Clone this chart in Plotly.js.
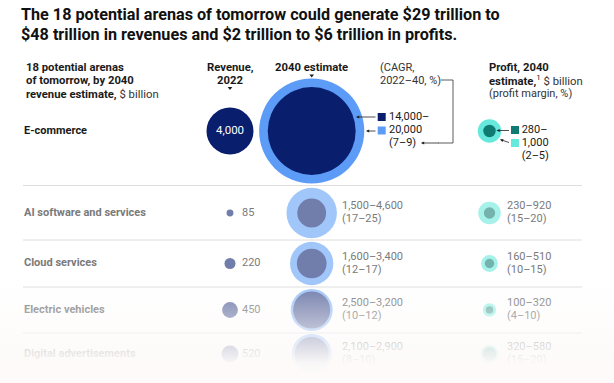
<!DOCTYPE html>
<html>
<head>
<meta charset="utf-8">
<script src="https://cdn.plot.ly/plotly-3.0.1.min.js"></script>
<style>
  html, body { margin: 0; padding: 0; background: #ffffff; }
  #chart { width: 614px; height: 383px; }
</style>
</head>
<body>
<div id="chart"></div>
<script>
// ---------------- data ----------------
const rows = ['E-commerce', 'AI software and services', 'Cloud services', 'Electric vehicles', 'Digital advertisements'];
const rev2022 = [4000, 85, 220, 450, 520];
const est2040Low = [14000, 1500, 1600, 2500, 2100];
const est2040High = [20000, 4600, 3400, 3200, 2900];
const cagrLow = [7, 17, 12, 10, 8];
const cagrHigh = [9, 25, 17, 12, 10];
const profitLow = [280, 230, 160, 100, 320];
const profitHigh = [1000, 920, 510, 320, 580];
const marginLow = [2, 15, 10, 4, 15];
const marginHigh = [5, 20, 15, 10, 20];

// ---------------- layout constants (positions / styles) ----------------
const FONT = 'Roboto, "Liberation Sans", sans-serif';
const ROW_Y = [131, 213, 263.5, 310, 354];
const COL = { label: 24, rev: 230, revText: 242, est: 311.7, estText: 342, profit: 489.5, profitText: 507 };
const SIZEREF = 3.62; // radius = sqrt(v / (2*sizeref))
const NAVY = '#0a1e6e', BLUE = '#5c9cf7', TEAL_D = '#0f7a72', TEAL_L = '#66e8dc';
const INK = '#1a1a1a';
const BG_FADE = '253,250,249';

function hex2rgb(h) { h = h.replace('#', ''); return [0, 2, 4].map(i => parseInt(h.substr(i, 2), 16)); }
function dim(c, k) { // blend colour with white, keep k of the colour
  const [r, g, b] = hex2rgb(c);
  const m = v => Math.round(v * k + 255 * (1 - k));
  return 'rgb(' + m(r) + ',' + m(g) + ',' + m(b) + ')';
}
const rowK = rows.map((_, i) => i === 0 ? 1 : 0.58);
const colorsFor = c => rowK.map(k => dim(c, k));
const fmt = v => v.toLocaleString('en-US');

const traces = [];
function bubbles(xc, vals, col) {
  traces.push({
    type: 'scatter', mode: 'markers', x: rows.map(() => xc), y: ROW_Y,
    marker: { size: vals, sizemode: 'area', sizeref: SIZEREF, color: colorsFor(col), line: { width: 0 }, opacity: 1 },
    hoverinfo: 'skip', cliponaxis: false
  });
}
bubbles(COL.est, est2040High, BLUE);
bubbles(COL.est, est2040Low, NAVY);
bubbles(COL.rev, rev2022, NAVY);
bubbles(COL.profit, profitHigh, TEAL_L);
bubbles(COL.profit, profitLow, TEAL_D);

// legend keys for the highlighted row
traces.push({
  type: 'scatter', mode: 'markers', x: [381.7, 381.7, 515, 515], y: [117, 130.5, 130, 143],
  marker: { symbol: 'square', size: 8, color: [NAVY, BLUE, TEAL_D, TEAL_L] }, hoverinfo: 'skip'
});
// header pointers
traces.push({
  type: 'scatter', mode: 'markers', x: [COL.rev, COL.est], y: [88, 75.5],
  marker: { symbol: 'triangle-down', size: 4, color: INK }, hoverinfo: 'skip'
});

function textTrace(xs, ys, texts, colors, size, pos) {
  traces.push({
    type: 'scatter', mode: 'text', x: xs, y: ys, text: texts, textposition: pos,
    textfont: { family: FONT, size: size, color: colors }, hoverinfo: 'skip', cliponaxis: false
  });
}
const textCol = rowK.map(k => dim(INK, k));
const others = rows.map((_, i) => i).filter(i => i > 0);
// row labels
textTrace(rows.map(() => COL.label), ROW_Y, rows.map(r => '<b>' + r + '</b>'), textCol, 11, 'middle right');
// revenue 2022
textTrace([COL.rev], [ROW_Y[0]], [fmt(rev2022[0])], ['#ffffff'], 11.5, 'middle center');
textTrace(others.map(() => COL.revText), others.map(i => ROW_Y[i]), others.map(i => fmt(rev2022[i])), others.map(i => textCol[i]), 11, 'middle right');
// 2040 estimate
textTrace(others.map(() => COL.estText), others.map(i => ROW_Y[i] - 6.3), others.map(i => fmt(est2040Low[i]) + '–' + fmt(est2040High[i])), others.map(i => textCol[i]), 11, 'middle right');
textTrace(others.map(() => COL.estText), others.map(i => ROW_Y[i] + 6.3), others.map(i => '(' + cagrLow[i] + '–' + cagrHigh[i] + ')'), others.map(i => textCol[i]), 11, 'middle right');
textTrace([389, 389, 389], [117, 130, 143], [fmt(est2040Low[0]) + '–', fmt(est2040High[0]), '(' + cagrLow[0] + '–' + cagrHigh[0] + ')'], INK, 11, 'middle right');
// profit
textTrace(others.map(() => COL.profitText), others.map(i => ROW_Y[i] - 6.3), others.map(i => profitLow[i] + '–' + profitHigh[i]), others.map(i => textCol[i]), 11, 'middle right');
textTrace(others.map(() => COL.profitText), others.map(i => ROW_Y[i] + 6.3), others.map(i => '(' + marginLow[i] + '–' + marginHigh[i] + ')'), others.map(i => textCol[i]), 11, 'middle right');
textTrace([521.7, 521.7, 521.7], [130, 143, 156], [profitLow[0] + '–', fmt(profitHigh[0]), '(' + marginLow[0] + '–' + marginHigh[0] + ')'], INK, 11, 'middle right');

// bottom fade (gradient runs bottom -> top on this reversed axis)
traces.push({
  type: 'scatter', mode: 'lines', x: [0, 614, 614, 0, 0], y: [284, 284, 383, 383, 284],
  fill: 'toself', line: { width: 0, color: 'rgba(0,0,0,0)' },
  fillgradient: { type: 'vertical', colorscale: [[0, 'rgba(' + BG_FADE + ',1)'], [0.2, 'rgba(' + BG_FADE + ',0.97)'], [1, 'rgba(' + BG_FADE + ',0)']] },
  hoverinfo: 'skip'
});

// ---------------- annotations ----------------
const ann = [];
function txt(x, y, t, opts) {
  ann.push(Object.assign({ x: x, y: y, xref: 'x', yref: 'y', text: t, showarrow: false, xanchor: 'left', yanchor: 'middle',
    font: { family: FONT, size: 11.3, color: INK } }, opts || {}));
}
txt(19, 14.5, '<b>The 18 potential arenas of tomorrow could generate $29 trillion to</b>', { font: { family: FONT, size: 16.2, color: '#111' } });
txt(19, 34.5, '<b>$48 trillion in revenues and $2 trillion to $6 trillion in profits.</b>', { font: { family: FONT, size: 16.2, color: '#111' } });
txt(COL.label, 67.3, '<b>18 potential arenas</b>');
txt(COL.label, 80.7, '<b>of tomorrow, by 2040</b>');
txt(COL.label, 94.3, '<b>revenue estimate,</b> <span style="color:#333">$ billion</span>');
txt(COL.rev, 67.3, '<b>Revenue,</b>', { xanchor: 'center' });
txt(COL.rev, 80, '<b>2022</b>', { xanchor: 'center' });
txt(COL.est, 67.3, '<b>2040 estimate</b>', { xanchor: 'center' });
txt(377.7, 67.3, '(CAGR,', { font: { family: FONT, size: 11, color: '#333' } });
txt(377.7, 80, '2022–40, %)', { font: { family: FONT, size: 11, color: '#333' } });
txt(486.7, 67.3, '<b>Profit, 2040</b>');
txt(486.7, 80.3, '<b>estimate,</b><sup>1</sup> <span style="color:#333">$ billion</span>', { yanchor: 'middle' });
txt(486.7, 93.5, '(profit margin, %)', { font: { family: FONT, size: 11, color: '#333' } });

function arrow(hx, hy, tx, ty) {
  ann.push({ x: hx, y: hy, ax: tx, ay: ty, xref: 'x', yref: 'y', axref: 'x', ayref: 'y', text: '', showarrow: true,
    arrowhead: 2, arrowsize: 0.8, arrowwidth: 0.8, arrowcolor: '#222', standoff: 0, startstandoff: 0 });
}
arrow(356, 117, 377, 117);
arrow(366, 131, 377, 131);
arrow(421, 143, 440, 143);
arrow(496.5, 130.5, 510.5, 130.5);
arrow(500, 139.5, 510.5, 143);

const shapes = [
  { type: 'path', path: 'M 441 80 H 453 V 143 H 438', line: { color: '#333', width: 0.8 }, xref: 'x', yref: 'y' }
];
[185.5, 240, 287, 333].forEach(y => shapes.push({ type: 'line', xref: 'x', yref: 'y', x0: 23, x1: 582, y0: y, y1: y, line: { color: '#dedede', width: 1 }, layer: 'below' }));

const layout = {
  width: 614, height: 383, margin: { l: 0, r: 0, t: 0, b: 0 },
  paper_bgcolor: '#ffffff', plot_bgcolor: '#ffffff', showlegend: false,
  xaxis: { range: [0, 614], visible: false, fixedrange: true },
  yaxis: { range: [383, 0], visible: false, fixedrange: true },
  annotations: ann, shapes: shapes, font: { family: FONT }
};
Plotly.newPlot('chart', traces, layout, { displayModeBar: false, staticPlot: true });
</script>
</body>
</html>
